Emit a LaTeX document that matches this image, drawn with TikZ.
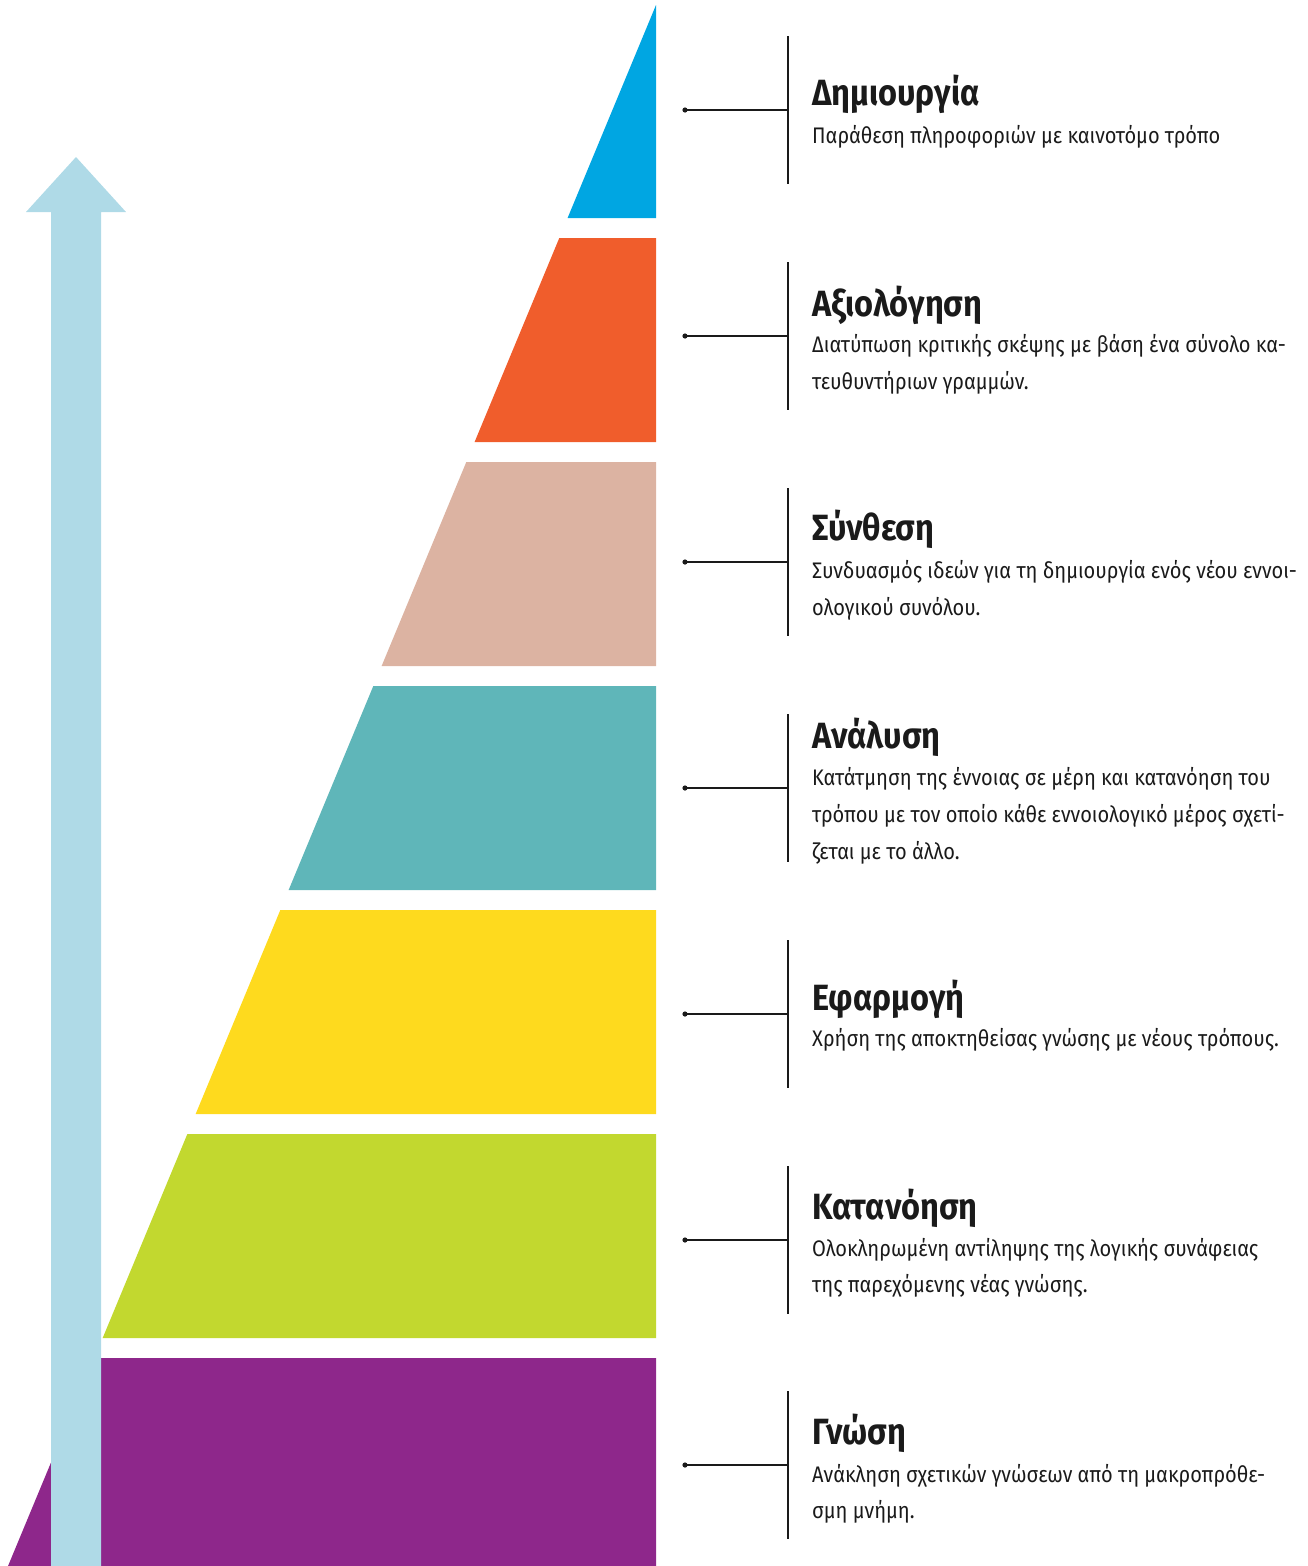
\documentclass[tikz,border=0pt]{standalone}
\usepackage{fontspec}
\setmainfont{Fira Sans}[FakeStretch=0.89]
\usetikzlibrary{positioning}

\definecolor{lvlA}{HTML}{00A6E2}
\definecolor{lvlB}{HTML}{F05D2C}
\definecolor{lvlC}{HTML}{DCB3A2}
\definecolor{lvlD}{HTML}{5FB6B9}
\definecolor{lvlE}{HTML}{FEDA1E}
\definecolor{lvlF}{HTML}{C2D82F}
\definecolor{lvlG}{HTML}{8E278B}
\definecolor{upblue}{HTML}{AFDAE7}
\definecolor{ink}{HTML}{1A1A1A}

\begin{document}
\begin{tikzpicture}[x=1pt, y=-1pt,
  title/.style={anchor=base west, inner sep=0pt, text=ink,
    font=\fontsize{36.5}{40}\selectfont\bfseries},
  desc/.style={anchor=base west, inner sep=0pt, text=ink,
    font=\fontsize{22.5}{37}\selectfont},
  rule/.style={line width=1.1pt, draw=ink}]

  \useasboundingbox (0,0) rectangle (1308,1566);

  % pyramid bands
  \foreach \ya/\yb/\col in {5/218/lvlA, 238/442/lvlB, 462/666/lvlC,
      686/890/lvlD, 910/1114/lvlE, 1134/1338/lvlF, 1358/1566/lvlG} {
    \pgfmathsetmacro\xa{656-0.4151*(\ya-5)}
    \pgfmathsetmacro\xb{656-0.4151*(\yb-5)}
    \fill[\col] (\xa,\ya) -- (656,\ya) -- (656,\yb) -- (\xb,\yb) -- cycle;
  }

  % arrow
  \fill[upblue] (51,1566) -- (51,212) -- (26,212) -- (76,157)
    -- (126,212) -- (101,212) -- (101,1566) -- cycle;

  % connectors
  \foreach \i/\c in {1/110, 2/336, 3/562, 4/788, 5/1014, 6/1240, 7/1465} {
    \coordinate (d\i) at (685,\c);
    \coordinate (j\i) at (788,\c);
    \coordinate (jt\i) at (788,\c-74);
    \coordinate (jb\i) at (788,\c+74);
    \fill[ink] (d\i) circle (2.6);
    \draw[rule] (d\i) -- (j\i);
    \draw[rule] (jt\i) -- (jb\i);
  }

  % labels
  \node[title] (t1) at (812,105) {Δημιουργία};
  \node[desc] (p1a) at (812,143) {Παράθεση πληροφοριών με καινοτόμο τρόπο};

  \node[title] (t2) at (812,316) {Αξιολόγηση};
  \node[desc] (p2a) at (812,352) {Διατύπωση κριτικής σκέψης με βάση ένα σύνολο κα-};
  \node[desc] (p2b) at (812,389) {τευθυντήριων γραμμών.};

  \node[title] (t3) at (812,540) {Σύνθεση};
  \node[desc] (p3a) at (812,578) {Συνδυασμός ιδεών για τη δημιουργία ενός νέου εννοι-};
  \node[desc] (p3b) at (812,615) {ολογικού συνόλου.};

  \node[title] (t4) at (812,748) {Ανάλυση};
  \node[desc] (p4a) at (812,785) {Κατάτμηση της έννοιας σε μέρη και κατανόηση του};
  \node[desc] (p4b) at (812,822) {τρόπου με τον οποίο κάθε εννοιολογικό μέρος σχετί-};
  \node[desc] (p4c) at (812,859) {ζεται με το άλλο.};

  \node[title] (t5) at (812,1010) {Εφαρμογή};
  \node[desc] (p5a) at (812,1046) {Χρήση της αποκτηθείσας γνώσης με νέους τρόπους.};

  \node[title] (t6) at (812,1219) {Κατανόηση};
  \node[desc] (p6a) at (812,1256) {Ολοκληρωμένη αντίληψης της λογικής συνάφειας};
  \node[desc] (p6b) at (812,1292) {της παρεχόμενης νέας γνώσης.};

  \node[title] (t7) at (812,1444) {Γνώση};
  \node[desc] (p7a) at (812,1482) {Ανάκληση σχετικών γνώσεων από τη μακροπρόθε-};
  \node[desc] (p7b) at (812,1518) {σμη μνήμη.};
\end{tikzpicture}
\end{document}
